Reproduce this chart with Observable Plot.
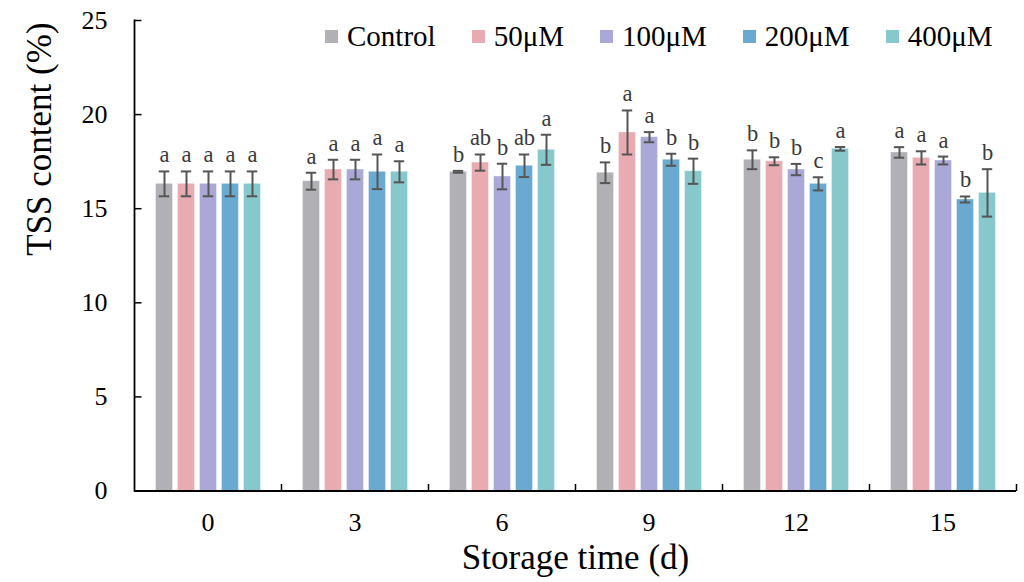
<!DOCTYPE html>
<html>
<head>
<meta charset="utf-8">
<script src="https://cdn.jsdelivr.net/npm/d3@7"></script>
<script src="https://cdn.jsdelivr.net/npm/@observablehq/plot@0.6"></script>
<style>
  html, body { margin: 0; padding: 0; background: #fff; }
  #wrap { position: relative; width: 1024px; height: 582px; font-family: "Liberation Serif", "Times New Roman", serif; }
  #wrap svg, #wrap svg text { font-family: "Liberation Serif", "Times New Roman", serif !important; }
  #legend { position: absolute; top: 19px; left: 325px; display: flex; align-items: center; gap: 36px; font-size: 29px; color: #000; line-height: 34px; }
  #legend .item { display: flex; align-items: center; gap: 9px; }
  #legend .sw { width: 13px; height: 13px; display: inline-block; }
</style>
</head>
<body>
<div id="wrap"><div id="legend"></div></div>
<script>
const days = ["0", "3", "6", "9", "12", "15"];
const series = ["Control", "50μM", "100μM", "200μM", "400μM"];
const colors = ["#B1B0B5", "#E8ABB1", "#A9A8D6", "#6BAAD0", "#86C8CC"];
const yTicks = [0, 5, 10, 15, 20, 25];

const meanControl = [16.32, 16.46, 16.96, 16.91, 17.60, 17.99];
const mean50 = [16.32, 17.08, 17.45, 19.05, 17.52, 17.70];
const mean100 = [16.32, 17.08, 16.71, 18.80, 17.08, 17.56];
const mean200 = [16.32, 16.96, 17.28, 17.60, 16.32, 15.49];
const mean400 = [16.32, 16.96, 18.13, 16.99, 18.18, 15.84];

const errControl = [0.66, 0.45, 0.05, 0.55, 0.50, 0.28];
const err50 = [0.66, 0.52, 0.43, 1.17, 0.21, 0.35];
const err100 = [0.66, 0.52, 0.68, 0.27, 0.30, 0.21];
const err200 = [0.66, 0.92, 0.60, 0.32, 0.35, 0.16];
const err400 = [0.66, 0.56, 0.80, 0.67, 0.10, 1.26];

const letControl = ["a", "a", "b", "b", "b", "a"];
const let50 = ["a", "a", "ab", "a", "b", "a"];
const let100 = ["a", "a", "b", "a", "b", "a"];
const let200 = ["a", "a", "ab", "b", "c", "b"];
const let400 = ["a", "a", "a", "b", "a", "b"];

const means = [meanControl, mean50, mean100, mean200, mean400];
const errs = [errControl, err50, err100, err200, err400];
const lets = [letControl, let50, let100, let200, let400];

const data = [];
days.forEach((day, i) => {
  series.forEach((s, j) => {
    data.push({day, series: s, mean: means[j][i], err: errs[j][i], letter: lets[j][i]});
  });
});

const serif = '"Liberation Serif", "Times New Roman", serif';
const vTick = {draw(ctx) { ctx.moveTo(0, 0); ctx.lineTo(0, -7); }};
const hTick = {draw(ctx) { ctx.moveTo(0, 0); ctx.lineTo(7, 0); }};
const ebColor = "#555555";

const chart = Plot.plot({
  width: 1024,
  height: 582,
  marginTop: 20,
  marginRight: 5.5,
  marginBottom: 91.5,
  marginLeft: 131.5,
  style: {fontFamily: serif, background: "transparent", color: "#000"},
  fx: {domain: days, padding: 0, label: null},
  x: {domain: series, paddingInner: 0.25, paddingOuter: 0.9, axis: null},
  y: {domain: [0, 25], label: null},
  color: {domain: series, range: colors},
  marks: [
    Plot.barY(data, {fx: "day", x: "series", y: "mean", fill: "series", stroke: "#ffffff", strokeOpacity: 0.35, strokeWidth: 1}),
    Plot.ruleX(data, {fx: "day", x: "series", y1: d => d.mean - d.err, y2: d => d.mean + d.err, stroke: ebColor, strokeWidth: 2}),
    Plot.tickY(data, {fx: "day", x: "series", y: d => d.mean + d.err, insetLeft: 3.3, insetRight: 3.3, stroke: ebColor, strokeWidth: 2}),
    Plot.tickY(data, {fx: "day", x: "series", y: d => d.mean - d.err, insetLeft: 3.3, insetRight: 3.3, stroke: ebColor, strokeWidth: 2}),
    Plot.text(data, {fx: "day", x: "series", y: d => d.mean + d.err, text: "letter", lineAnchor: "bottom", dy: -9, fontSize: 22.5, fontFamily: serif, fill: "#3a3a3a"}),
    Plot.ruleY([0], {stroke: "#000", strokeWidth: 1.8}),
    Plot.frame({anchor: "left", facetAnchor: "left", stroke: "#000", strokeWidth: 1.8}),
    Plot.dot(days.slice(1), {fx: d => d, frameAnchor: "bottom-left", symbol: vTick, stroke: "#000", fill: "none", strokeWidth: 1.5}),
    Plot.dot([days[days.length - 1]], {fx: d => d, frameAnchor: "bottom-right", symbol: vTick, stroke: "#000", fill: "none", strokeWidth: 1.5}),
    Plot.dot(yTicks.slice(1), {y: d => d, frameAnchor: "left", facetAnchor: "left", symbol: hTick, stroke: "#000", fill: "none", strokeWidth: 1.5}),
    Plot.axisY(yTicks, {tickSize: 0, tickPadding: 27, fontSize: 26, fontFamily: serif, label: null}),
    Plot.axisFx({anchor: "bottom", tickSize: 0, tickPadding: 21.7, fontSize: 26, fontFamily: serif, label: null}),
    Plot.text(["Storage time (d)"], {facet: "super", frameAnchor: "bottom", dy: 66.5, lineAnchor: "middle", fontSize: 35, fontFamily: serif, fill: "#000"}),
    Plot.text(["TSS content (%)"], {facet: "super", frameAnchor: "left", dx: -94.5, rotate: -90, lineAnchor: "middle", fontSize: 35, fontFamily: serif, fill: "#000"})
  ]
});

const wrap = document.getElementById("wrap");
wrap.insertBefore(chart, wrap.firstChild);

const legend = document.getElementById("legend");
series.forEach((s, i) => {
  const item = document.createElement("div");
  item.className = "item";
  const sw = document.createElement("span");
  sw.className = "sw";
  sw.style.background = colors[i];
  const t = document.createElement("span");
  t.textContent = s;
  item.appendChild(sw);
  item.appendChild(t);
  legend.appendChild(item);
});
</script>
</body>
</html>
